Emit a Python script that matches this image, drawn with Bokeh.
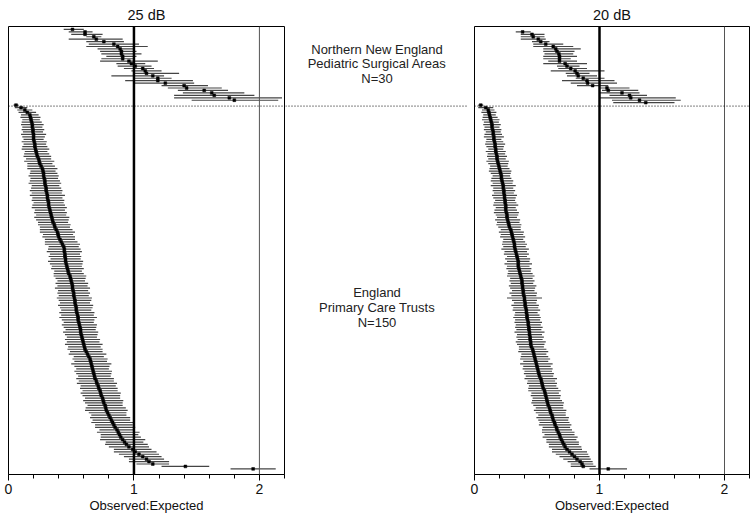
from bokeh.plotting import figure
from bokeh.models import Range1d, Span, FixedTicker, ColumnDataSource
from bokeh.layouts import row
from bokeh.embed import file_html
from bokeh.resources import INLINE
from bokeh.core.properties import value

FONT = "Liberation Sans"

# ---------------- data ----------------
panel_titles = ["25 dB", "20 dB"]
x_ticks = [0, 1, 2]
x_minor = [0.2, 0.4, 0.6, 0.8, 1.2, 1.4, 1.6, 1.8, 2.2]
x_label = "Observed:Expected"

group_top_lines = ["Northern New England", "Pediatric Surgical Areas", "N=30"]
group_bottom_lines = ["England", "Primary Care Trusts", "N=150"]

# rank positions (row index from the top)
nne25_rows = list(range(0, 30))
nne20_rows = list(range(1, 31))
eng_rows = list(range(31, 181))

# Northern New England, 25 dB
nne25_est = [0.51, 0.61, 0.61, 0.68, 0.70, 0.76, 0.84, 0.87, 0.89, 0.90,
             0.90, 0.91, 0.91, 0.96, 0.98, 1.01, 1.07, 1.09, 1.10, 1.15,
             1.19, 1.19, 1.25, 1.40, 1.42, 1.56, 1.62, 1.64, 1.76, 1.80]
nne25_lo = [0.44, 0.48, 0.50, 0.62, 0.48, 0.62, 0.64, 0.62, 0.71, 0.73,
            0.74, 0.78, 0.74, 0.73, 0.86, 0.87, 0.92, 0.98, 1.00, 0.82,
            1.00, 0.93, 1.00, 1.22, 1.27, 1.35, 1.39, 1.32, 1.32, 1.46]
nne25_hi = [0.60, 0.67, 0.75, 0.74, 0.91, 0.92, 1.04, 1.11, 1.00, 1.02,
            1.06, 1.02, 1.00, 1.19, 1.09, 1.14, 1.16, 1.22, 1.36, 1.24,
            1.30, 1.47, 1.48, 1.59, 1.70, 1.75, 1.88, 1.96, 2.18, 2.15]

# Northern New England, 20 dB
nne20_est = [0.385, 0.46, 0.47, 0.51, 0.53, 0.57, 0.63, 0.65, 0.66, 0.675,
             0.68, 0.68, 0.68, 0.725, 0.74, 0.77, 0.805, 0.82, 0.83, 0.87,
             0.90, 0.905, 0.945, 1.06, 1.07, 1.18, 1.24, 1.25, 1.32, 1.37]
nne20_lo = [0.33, 0.37, 0.37, 0.37, 0.46, 0.47, 0.47, 0.55, 0.55, 0.56,
            0.55, 0.55, 0.59, 0.55, 0.66, 0.67, 0.61, 0.73, 0.74, 0.81,
            0.70, 0.77, 0.82, 1.00, 1.02, 1.00, 1.08, 1.00, 1.10, 1.11]
nne20_hi = [0.45, 0.56, 0.56, 0.57, 0.60, 0.71, 0.79, 0.85, 0.80, 0.79,
            0.82, 0.77, 0.82, 0.90, 0.84, 0.90, 1.04, 0.92, 0.98, 1.04,
            1.12, 1.14, 1.07, 1.24, 1.31, 1.32, 1.38, 1.61, 1.65, 1.60]

# England, 25 dB: estimate and CI half-width
eng25_est = [0.06, 0.10, 0.13, 0.15, 0.17, 0.175, 0.18, 0.185, 0.19, 0.19,
             0.195, 0.195, 0.20, 0.20, 0.20, 0.205, 0.21, 0.21, 0.215, 0.22,
             0.225, 0.23, 0.24, 0.245, 0.25, 0.26, 0.27, 0.275, 0.28, 0.28,
             0.285, 0.29, 0.29, 0.295, 0.30, 0.30, 0.305, 0.31, 0.31, 0.315,
             0.32, 0.32, 0.325, 0.33, 0.335, 0.34, 0.345, 0.35, 0.355, 0.365,
             0.37, 0.38, 0.39, 0.395, 0.40, 0.41, 0.42, 0.43, 0.44, 0.445,
             0.445, 0.45, 0.45, 0.455, 0.455, 0.46, 0.465, 0.47, 0.475, 0.48,
             0.49, 0.495, 0.50, 0.505, 0.51, 0.51, 0.515, 0.52, 0.52, 0.525,
             0.53, 0.53, 0.535, 0.54, 0.54, 0.545, 0.55, 0.555, 0.555, 0.56,
             0.565, 0.57, 0.575, 0.575, 0.58, 0.585, 0.59, 0.595, 0.60, 0.605,
             0.61, 0.62, 0.63, 0.64, 0.65, 0.655, 0.66, 0.665, 0.67, 0.675,
             0.68, 0.685, 0.69, 0.70, 0.705, 0.715, 0.72, 0.73, 0.735, 0.74,
             0.75, 0.755, 0.76, 0.77, 0.775, 0.78, 0.79, 0.80, 0.81, 0.82,
             0.83, 0.84, 0.85, 0.865, 0.875, 0.885, 0.895, 0.91, 0.925, 0.94,
             0.96, 0.99, 1.01, 1.04, 1.07, 1.10, 1.12, 1.15, 1.41, 1.95]
eng25_hw = [0.02, 0.05, 0.06, 0.07, 0.07, 0.08, 0.07, 0.08, 0.09, 0.08,
            0.09, 0.08, 0.10, 0.09, 0.08, 0.10, 0.09, 0.10, 0.11, 0.09,
            0.10, 0.11, 0.10, 0.12, 0.10, 0.11, 0.12, 0.10, 0.11, 0.12,
            0.11, 0.12, 0.13, 0.11, 0.12, 0.13, 0.12, 0.14, 0.12, 0.13,
            0.12, 0.13, 0.14, 0.12, 0.13, 0.12, 0.14, 0.13, 0.12, 0.13,
            0.12, 0.13, 0.14, 0.12, 0.13, 0.12, 0.13, 0.14, 0.12, 0.13,
            0.14, 0.12, 0.13, 0.12, 0.14, 0.13, 0.12, 0.13, 0.11, 0.12,
            0.13, 0.12, 0.11, 0.13, 0.12, 0.14, 0.12, 0.13, 0.12, 0.14,
            0.13, 0.12, 0.14, 0.13, 0.12, 0.14, 0.13, 0.15, 0.13, 0.12,
            0.14, 0.13, 0.12, 0.14, 0.13, 0.12, 0.14, 0.13, 0.15, 0.13,
            0.14, 0.13, 0.15, 0.12, 0.14, 0.13, 0.16, 0.14, 0.13, 0.15,
            0.14, 0.13, 0.15, 0.14, 0.16, 0.14, 0.15, 0.14, 0.16, 0.15,
            0.14, 0.16, 0.15, 0.14, 0.16, 0.17, 0.15, 0.14, 0.16, 0.15,
            0.17, 0.15, 0.16, 0.14, 0.17, 0.15, 0.16, 0.18, 0.15, 0.17,
            0.16, 0.15, 0.17, 0.16, 0.15, 0.14, 0.16, 0.13, 0.19, 0.18]

# England, 20 dB: estimate and CI half-width
eng20_est = [0.05, 0.09, 0.11, 0.115, 0.12, 0.125, 0.13, 0.135, 0.14, 0.14,
             0.145, 0.15, 0.15, 0.155, 0.155, 0.16, 0.165, 0.165, 0.17, 0.17,
             0.175, 0.18, 0.18, 0.185, 0.19, 0.195, 0.20, 0.205, 0.21, 0.215,
             0.215, 0.22, 0.225, 0.23, 0.23, 0.235, 0.235, 0.24, 0.24, 0.245,
             0.245, 0.25, 0.25, 0.25, 0.255, 0.26, 0.26, 0.265, 0.27, 0.275,
             0.28, 0.29, 0.295, 0.30, 0.305, 0.31, 0.315, 0.32, 0.32, 0.325,
             0.33, 0.335, 0.34, 0.345, 0.35, 0.35, 0.35, 0.355, 0.36, 0.365,
             0.37, 0.375, 0.38, 0.38, 0.385, 0.385, 0.39, 0.39, 0.395, 0.40,
             0.40, 0.405, 0.405, 0.41, 0.415, 0.415, 0.42, 0.42, 0.425, 0.43,
             0.43, 0.435, 0.435, 0.44, 0.44, 0.445, 0.445, 0.45, 0.45, 0.455,
             0.465, 0.47, 0.475, 0.48, 0.485, 0.49, 0.495, 0.50, 0.505, 0.51,
             0.515, 0.52, 0.53, 0.535, 0.54, 0.545, 0.55, 0.56, 0.565, 0.57,
             0.575, 0.58, 0.585, 0.59, 0.60, 0.605, 0.61, 0.62, 0.625, 0.63,
             0.64, 0.645, 0.655, 0.66, 0.67, 0.68, 0.685, 0.695, 0.705, 0.715,
             0.725, 0.74, 0.76, 0.78, 0.80, 0.82, 0.845, 0.86, 0.87, 1.07]
eng20_hw = [0.02, 0.06, 0.05, 0.06, 0.05, 0.06, 0.07, 0.06, 0.07, 0.06,
            0.07, 0.06, 0.07, 0.08, 0.06, 0.07, 0.08, 0.07, 0.06, 0.08,
            0.07, 0.08, 0.07, 0.09, 0.08, 0.07, 0.08, 0.09, 0.08, 0.07,
            0.08, 0.09, 0.08, 0.10, 0.08, 0.09, 0.08, 0.10, 0.09, 0.08,
            0.09, 0.10, 0.08, 0.09, 0.10, 0.09, 0.08, 0.10, 0.09, 0.10,
            0.09, 0.08, 0.10, 0.09, 0.10, 0.08, 0.09, 0.10, 0.09, 0.11,
            0.09, 0.10, 0.08, 0.10, 0.09, 0.11, 0.09, 0.10, 0.09, 0.10,
            0.11, 0.09, 0.10, 0.09, 0.11, 0.10, 0.09, 0.11, 0.10, 0.14,
            0.10, 0.09, 0.11, 0.10, 0.11, 0.09, 0.10, 0.11, 0.10, 0.11,
            0.10, 0.11, 0.10, 0.12, 0.10, 0.11, 0.10, 0.12, 0.11, 0.10,
            0.11, 0.12, 0.10, 0.11, 0.12, 0.10, 0.13, 0.11, 0.12, 0.11,
            0.12, 0.11, 0.13, 0.11, 0.12, 0.11, 0.12, 0.13, 0.11, 0.12,
            0.11, 0.12, 0.13, 0.12, 0.11, 0.13, 0.12, 0.11, 0.13, 0.12,
            0.12, 0.13, 0.11, 0.12, 0.13, 0.12, 0.14, 0.12, 0.13, 0.12,
            0.13, 0.12, 0.14, 0.13, 0.12, 0.11, 0.10, 0.09, 0.10, 0.15]

# ---------------- layout ----------------
H = 515
TOP = 26
BOTTOM = 40
DIVIDER = 31.4
y_range = Range1d(182.3, -1.2)


def make_panel(title, top_rows, top_est, top_lo, top_hi, bot_est, bot_hw,
               width, border_left):
    p = figure(width=width, height=H, x_range=Range1d(0, 2.2), y_range=y_range,
               output_backend="svg", toolbar_location=None, tools="",
               y_axis_location=None, title=title,
               min_border_left=border_left, min_border_right=1,
               min_border_top=TOP, min_border_bottom=BOTTOM)
    p.title.align = "center"
    p.title.text_font = FONT
    p.title.text_font_size = "14.5px"
    p.title.text_font_style = "normal"
    p.title.text_color = "#111111"
    p.title.standoff = 7
    p.xgrid.visible = False
    p.ygrid.visible = False
    p.outline_line_color = "black"
    p.outline_line_alpha = 1
    p.outline_line_width = 1
    p.background_fill_color = "white"
    p.border_fill_color = "white"

    ax = p.xaxis[0]
    ax.ticker = FixedTicker(ticks=x_ticks, minor_ticks=x_minor)
    ax.axis_label = x_label
    ax.axis_label_text_font = FONT
    ax.axis_label_text_font_size = "13px"
    ax.axis_label_text_font_style = "normal"
    ax.axis_label_text_color = "#111111"
    ax.axis_label_standoff = 1
    ax.major_label_text_font = FONT
    ax.major_label_text_font_size = "14px"
    ax.major_label_text_color = "#111111"
    ax.major_label_standoff = 3
    ax.axis_line_color = "black"
    ax.major_tick_in = 0
    ax.major_tick_out = 6
    ax.minor_tick_in = 0
    ax.minor_tick_out = 4
    ax.major_tick_line_color = "black"
    ax.minor_tick_line_color = "black"

    ys = top_rows + eng_rows
    est = top_est + bot_est
    lo = top_lo + [e - h for e, h in zip(bot_est, bot_hw)]
    hi = top_hi + [e + h for e, h in zip(bot_est, bot_hw)]
    src = ColumnDataSource(dict(y=ys, est=est, lo=lo, hi=hi))

    p.segment(x0="lo", y0="y", x1="hi", y1="y", source=src,
              line_color="#444444", line_width=1.2)
    p.scatter(x="est", y="y", source=src, marker="square", size=2.8,
              fill_color="black", line_color="black", line_width=0.5)

    p.add_layout(Span(location=1, dimension="height", line_color="black",
                      line_width=2.5))
    p.add_layout(Span(location=2, dimension="height", line_color="#555555",
                      line_width=1))
    p.add_layout(Span(location=DIVIDER, dimension="width", line_color="black",
                      line_width=1, line_dash="1 2"))
    return p


left = make_panel(panel_titles[0], nne25_rows, nne25_est, nne25_lo, nne25_hi,
                  eng25_est, eng25_hw, width=285, border_left=8)
right = make_panel(panel_titles[1], nne20_rows, nne20_est, nne20_lo, nne20_hi,
                   eng20_est, eng20_hw, width=282, border_left=6)

mid = figure(width=183, height=H, x_range=Range1d(0, 1), y_range=y_range,
             output_backend="svg", toolbar_location=None, tools="",
             x_axis_location=None, y_axis_location=None,
             min_border_left=0, min_border_right=0,
             min_border_top=TOP, min_border_bottom=BOTTOM)
mid.xgrid.visible = False
mid.ygrid.visible = False
mid.outline_line_color = None
mid.add_layout(Span(location=DIVIDER, dimension="width", line_color="black",
                    line_width=1, line_dash="1 2"))

label_y = [8.4, 14.1, 20.0, 107.9, 114.1, 120.2]
label_text = group_top_lines + group_bottom_lines
mid.text(x=[0.5] * len(label_text), y=label_y, text=label_text,
         text_font=value(FONT), text_font_size="13px", text_color="#222222",
         text_align="center", text_baseline="middle")

layout = row(left, mid, right)

open("out.html", "w").write(file_html(layout, INLINE))
